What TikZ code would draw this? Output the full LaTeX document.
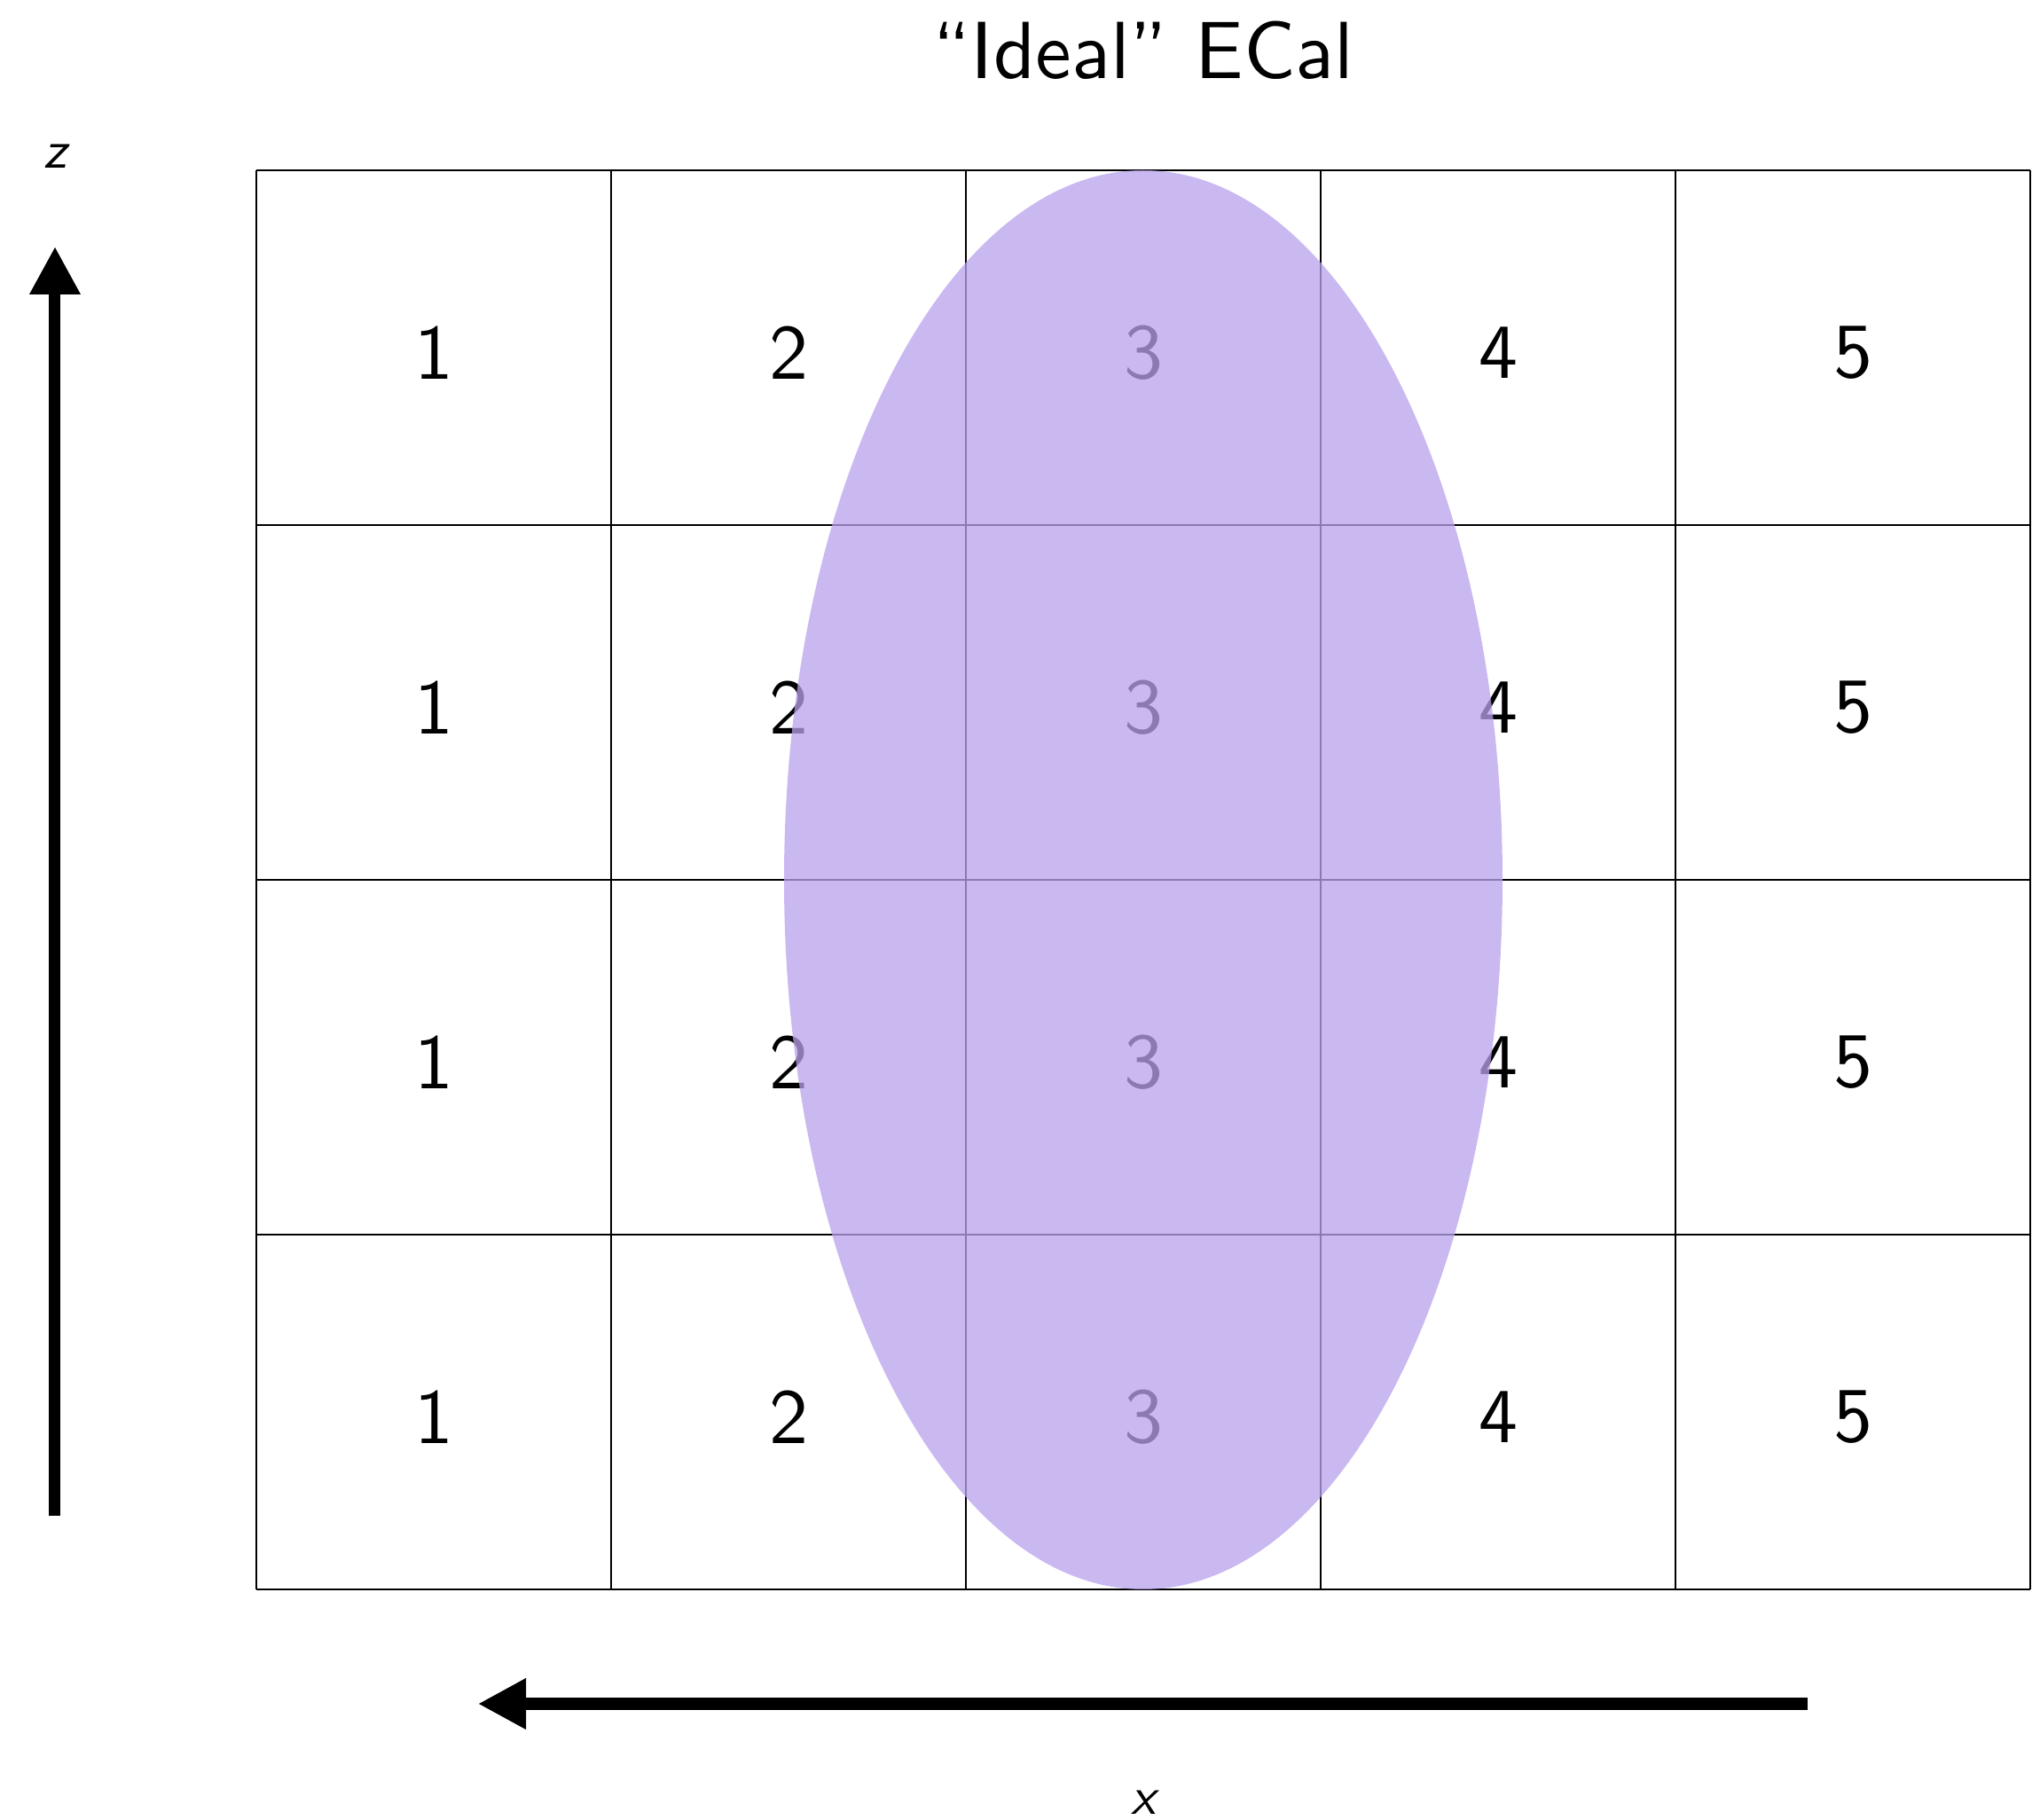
\documentclass[tikz,border=0pt]{standalone}
\usepackage{fontspec}
\setsansfont{lmsans10-regular.otf}[ItalicFont=lmsans10-oblique.otf]
\usepackage{xcolor}
\usepackage{tikz}
\usetikzlibrary{arrows.meta,positioning}
\definecolor{showerpurple}{RGB}{185,161,235}

\begin{document}
\begin{tikzpicture}[every node/.style={font=\sffamily},
    axisarrow/.style={line width=3.7pt,-{Triangle[width=5.4mm,length=5.4mm]}}]
  \useasboundingbox (-2.89,-2.60) rectangle (20.11,17.92);
  \node (title) at (10,17.35) {\fontsize{26}{30}\selectfont ``Ideal'' ECal};
  % calorimeter cells
  \draw[line width=0.8pt] (0,0) grid[step=4] (20,16);
  \foreach \col in {1,...,5}
    \foreach \row in {1,...,4}
      \node (cell\col\row) at ({4*\col-2},{4*\row-2.06}) {\fontsize{25}{30}\selectfont \col};
  % shower footprint
  \fill[showerpurple,fill opacity=0.757] (10,8) ellipse [x radius=4.05, y radius=8];
  % z direction
  \coordinate (zbot) at (-2.27,0.83);
  \coordinate (ztop) at (-2.27,15.14);
  \draw[axisarrow] (zbot) -- (ztop);
  \node (zlabel) at (-2.27,16.16) {\fontsize{17}{20}\selectfont\itshape z};
  % x direction
  \coordinate (xright) at (17.49,-1.29);
  \coordinate (xleft) at (2.50,-1.29);
  \draw[axisarrow] (xright) -- (xleft);
  \node (xlabel) at (10,-2.40) {\fontsize{17}{20}\selectfont\itshape x};
\end{tikzpicture}
\end{document}
